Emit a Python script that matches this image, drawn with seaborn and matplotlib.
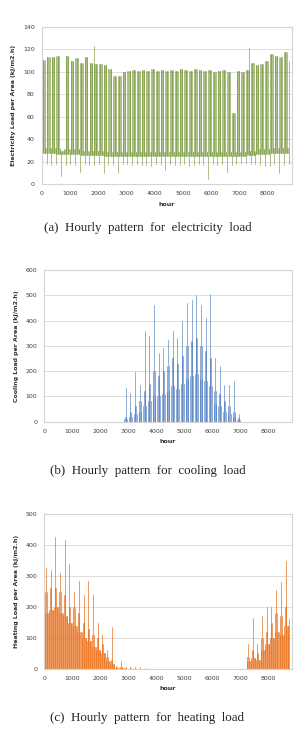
import numpy as np
import pandas as pd
import seaborn as sns
import matplotlib.pyplot as plt

sns.set_style('white')
plt.rcParams['font.family'] = ['DejaVu Sans']

# 주 단위(168h)로 그림에서 읽은 값 - 53주
elec_peak = [111, 113, 113, 114, 30, 114, 110, 112, 108, 113, 108, 107, 107, 106, 103, 96, 96, 100,
             101, 102, 101, 102, 101, 103, 101, 102, 101, 102, 101, 103, 102, 101, 103, 102, 101, 102,
             100, 101, 102, 100, 63, 101, 100, 102, 108, 106, 107, 110, 116, 114, 113, 118, 110]
elec_low = [28, 28, 28, 27, 27, 27, 27, 27, 26, 26, 26, 26, 26, 25, 25, 25, 25, 25,
            25, 25, 25, 25, 25, 25, 25, 25, 25, 25, 25, 25, 25, 25, 25, 25, 25, 25,
            25, 25, 25, 25, 25, 25, 25, 26, 26, 27, 27, 27, 28, 28, 28, 28, 28]
elec_dip = [11, 18, 17, 18, 7, 17, 18, 17, 11, 18, 17, 17, 18, 10, 17, 17, 10, 18,
            18, 17, 18, 17, 17, 16, 18, 17, 13, 18, 17, 17, 18, 16, 17, 18, 17, 5,
            18, 17, 18, 11, 17, 18, 19, 19, 18, 18, 17, 16, 16, 18, 10, 17, 18]
elec_spike_hour = [1850, 7330]
elec_spike_val = [123, 121]

cool_peak = [0] * 17 + [135, 115, 195, 145, 360, 340, 460, 270, 290, 325, 360, 330, 400, 470,
                        480, 500, 460, 410, 505, 250, 220, 145, 145, 160, 30] + [0] * 11
cool_high = [0] * 17 + [20, 40, 60, 80, 120, 150, 200, 180, 200, 220, 250, 230, 260, 300,
                        320, 330, 300, 280, 250, 120, 110, 80, 60, 40, 15] + [0] * 11
cool_low = [0] * 17 + [10, 20, 30, 40, 60, 80, 100, 100, 110, 120, 140, 130, 150, 170,
                       180, 190, 170, 160, 140, 70, 60, 40, 30, 20, 8] + [0] * 11

heat_peak = [325, 320, 425, 310, 415, 340, 250, 285, 240, 285, 240, 150, 110, 60, 135, 10, 25,
             8, 8, 6, 5, 3] + [0] * 21 + [80, 165, 80, 170, 200, 200, 255, 280, 350, 360]
heat_high = [250, 260, 260, 250, 240, 200, 200, 180, 150, 130, 110, 100, 80, 40, 30, 5, 5,
             2, 2, 1, 1, 1] + [0] * 21 + [40, 60, 50, 100, 120, 150, 180, 170, 200, 220]
heat_low = [180, 190, 200, 180, 170, 150, 140, 120, 100, 90, 70, 60, 50, 25, 15, 3, 3,
            1, 1, 0, 0, 0] + [0] * 21 + [25, 35, 30, 60, 80, 100, 120, 110, 140, 160]

xticks = [0, 1000, 2000, 3000, 4000, 5000, 6000, 7000, 8000]


def elec_frame():
    rows = []
    for d in range(365):
        w, dow, x = d // 7, d % 7, d * 24 + 12
        top = elec_peak[w] if dow < 5 else elec_low[w] + 4
        rows += [(x, elec_low[w], d), (x, top, d)]
        if dow == 0:
            rows += [(x - 6, elec_dip[w], 1000 + d), (x - 6, elec_low[w], 1000 + d)]
    for i, (h, v) in enumerate(zip(elec_spike_hour, elec_spike_val)):
        rows += [(h, elec_low[h // 168], 2000 + i), (h, v, 2000 + i)]
    return pd.DataFrame(rows, columns=['hour', 'load', 'day'])


def load_frame(peak, high, low, weekend=True):
    # 요일별: 월 low, 화 high, 수 peak, 목 high, 금 low, 주말 low(난방) / 없음(냉방)
    rows = []
    for d in range(365):
        w, dow, x = d // 7, d % 7, d * 24 + 12
        top = [low, high, peak, high, low, low, low][dow][w]
        if dow >= 5 and not weekend:
            top = 0
        if top > 0:
            rows += [(x, 0, d), (x, top, d)]
    return pd.DataFrame(rows, columns=['hour', 'load', 'day'])


fig = plt.figure(figsize=(2.95, 7.43), dpi=100)
ax1 = fig.add_axes([0.1414, 0.752, 0.8475, 0.2117])
ax2 = fig.add_axes([0.150, 0.4325, 0.839, 0.2041])
ax3 = fig.add_axes([0.150, 0.0996, 0.839, 0.2086])

sns.lineplot(data=elec_frame(), x='hour', y='load', units='day', estimator=None,
             color='#739636', lw=0.5, alpha=0.85, ax=ax1)
sns.lineplot(data=load_frame(cool_peak, cool_high, cool_low, weekend=False), x='hour', y='load',
             units='day', estimator=None, color='#4677be', lw=0.5, alpha=0.85, ax=ax2)
sns.lineplot(data=load_frame(heat_peak, heat_high, heat_low), x='hour', y='load', units='day',
             estimator=None, color='#ea6f18', lw=0.55, alpha=0.9, ax=ax3)

panels = [(ax1, 140, 20, 'Electricity Load per Area (kJ/m2.h)',
           '(a)  Hourly  pattern  for  electricity  load', 0.693),
          (ax2, 600, 100, 'Cooling Load per Area (kJ/m2.h)',
           '(b)  Hourly  pattern  for  cooling  load', 0.366),
          (ax3, 500, 100, 'Heating Load per Area (kJ/m2.h)',
           '(c)  Hourly  pattern  for  heating  load', 0.034)]

for ax, ymax, step, ylab, cap, cap_y in panels:
    ax.set_xlim(0, 8850)
    ax.set_ylim(0, ymax)
    ax.set_xticks(xticks)
    ax.set_yticks(range(0, ymax + 1, step))
    ax.grid(axis='y', color='#d9d9d9', lw=0.6)
    ax.set_axisbelow(True)
    for s in ax.spines.values():
        s.set_color('#d4d4d4')
        s.set_linewidth(0.8)
    ax.tick_params(length=0, labelsize=4.5, labelcolor='#404040', pad=5)
    ax.set_ylabel(ylab, fontsize=4.5, fontweight='bold', color='#303030', labelpad=5)
    ax.set_xlabel('hour', fontsize=4.5, fontweight='bold', color='#303030', labelpad=4)
    fig.text(0.5, cap_y, cap, ha='center', va='center', fontsize=9.3,
             family='Liberation Serif', color='#222222')

fig.savefig('out.png', dpi=100)
